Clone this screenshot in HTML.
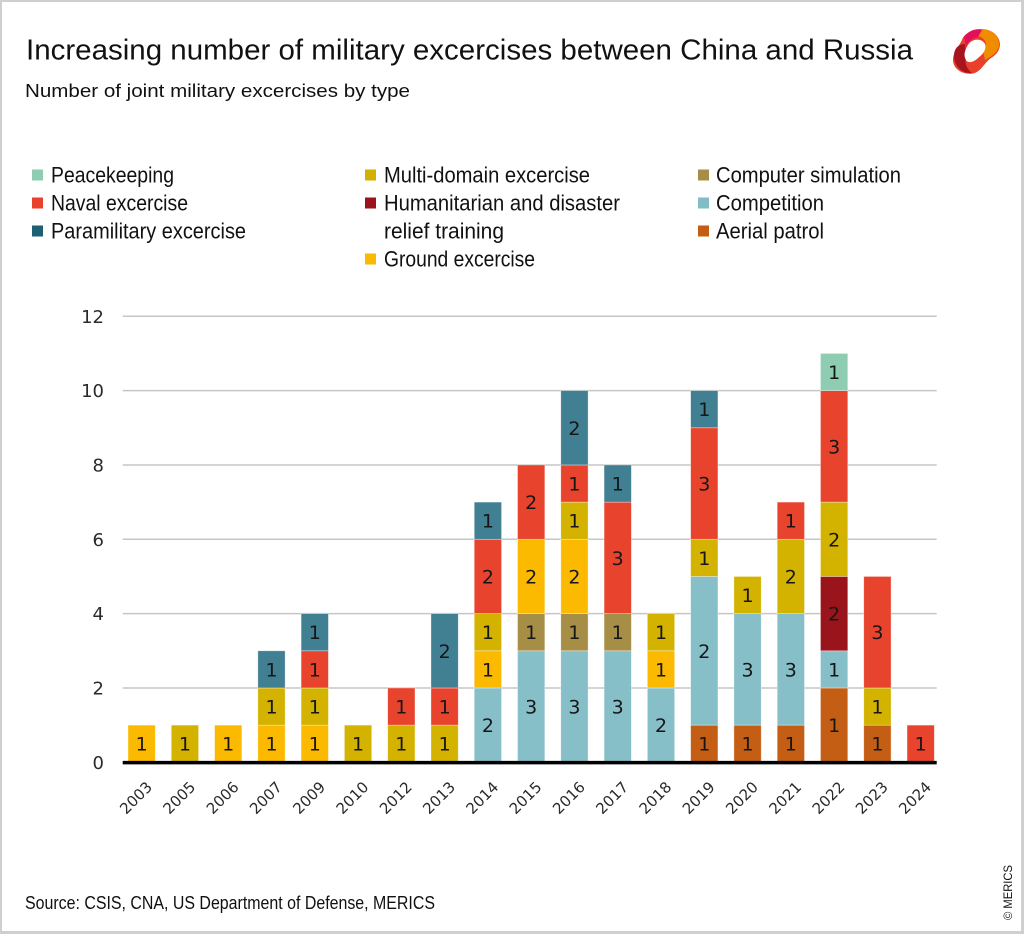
<!DOCTYPE html>
<html>
<head>
<meta charset="utf-8">
<style>
html,body{margin:0;padding:0;background:#fff;}
svg{display:block;}
.t{font-family:"Liberation Sans",sans-serif;fill:#111;}
.d{font-family:"DejaVu Sans","Liberation Sans",sans-serif;}
.bl{font-family:"DejaVu Sans","Liberation Sans",sans-serif;font-size:19px;fill:#161616;text-anchor:middle;}
.yl{font-family:"DejaVu Sans","Liberation Sans",sans-serif;font-size:18px;fill:#2a2a2a;text-anchor:end;}
.xl{font-family:"DejaVu Sans","Liberation Sans",sans-serif;font-size:15px;fill:#2a2a2a;text-anchor:end;}
.lg{font-family:"Liberation Sans",sans-serif;font-size:22px;fill:#111;}
</style>
</head>
<body>
<svg width="1024" height="934" viewBox="0 0 1024 934" xmlns="http://www.w3.org/2000/svg">
<rect x="0" y="0" width="1024" height="934" fill="#fff"/>
<!-- frame -->
<rect x="0" y="0" width="1024" height="2" fill="#cfcfcf"/>
<rect x="0" y="0" width="2" height="934" fill="#cfcfcf"/>
<rect x="1021" y="0" width="3" height="934" fill="#cfcfcf"/>
<rect x="0" y="931" width="1024" height="3" fill="#cfcfcf"/>

<!-- title -->
<text class="t" x="26" y="59.5" font-size="29" textLength="887" lengthAdjust="spacingAndGlyphs">Increasing number of military excercises between China and Russia</text>
<text class="t" x="25" y="97" font-size="18.5" fill="#222" textLength="385" lengthAdjust="spacingAndGlyphs">Number of joint military excercises by type</text>

<!-- logo -->
<g>
<path d="M962,40 C965,30 985,25 995,34 C1003,42 1001,52 991,58 C985,62 982,70 975,73 C965,76 953,70 953,60 C953,52 958,48 962,40 Z" fill="#E8402A"/>
<path d="M975,30 C988,26 1000,34 999,46 C997,54 990,57 985,60 L983,50 C988,45 986,38 978,36 Z" fill="#F08C00"/>
<path d="M964,37 C969,30 977,28 982,30 L978,37 C972,38 968,42 966,46 Z" fill="#E2105A"/>
<path d="M954,56 C954,48 959,44 965,44 L966,58 C964,64 968,70 972,73 C962,74 954,66 954,56 Z" fill="#A8141E"/>
<path d="M968,45 C972,38 982,38 985,44 C987,50 982,55 978,58 C974,62 968,64 966,60 C963,55 965,50 968,45 Z" fill="#fff"/>
</g>

<!-- legend -->
<rect x="32" y="169.5" width="11" height="11" fill="#8ECDB0"/>
<text class="lg" x="51" y="182.5" textLength="123" lengthAdjust="spacingAndGlyphs">Peacekeeping</text>
<rect x="32" y="197.5" width="11" height="11" fill="#E8412C"/>
<text class="lg" x="51" y="210.5" textLength="137" lengthAdjust="spacingAndGlyphs">Naval excercise</text>
<rect x="32" y="225.5" width="11" height="11" fill="#1E5F74"/>
<text class="lg" x="51" y="238.5" textLength="195" lengthAdjust="spacingAndGlyphs">Paramilitary excercise</text>

<rect x="365" y="169.5" width="11" height="11" fill="#D2B000"/>
<text class="lg" x="384" y="182.5" textLength="206" lengthAdjust="spacingAndGlyphs">Multi-domain excercise</text>
<rect x="365" y="197.5" width="11" height="11" fill="#9A141C"/>
<text class="lg" x="384" y="210.5" textLength="236" lengthAdjust="spacingAndGlyphs">Humanitarian and disaster</text>
<text class="lg" x="384" y="238.5" textLength="120" lengthAdjust="spacingAndGlyphs">relief training</text>
<rect x="365" y="253.5" width="11" height="11" fill="#FBBA00"/>
<text class="lg" x="384" y="266.5" textLength="151" lengthAdjust="spacingAndGlyphs">Ground excercise</text>

<rect x="698" y="169.5" width="11" height="11" fill="#A68E47"/>
<text class="lg" x="716" y="182.5" textLength="185" lengthAdjust="spacingAndGlyphs">Computer simulation</text>
<rect x="698" y="197.5" width="11" height="11" fill="#84BCC6"/>
<text class="lg" x="716" y="210.5" textLength="108" lengthAdjust="spacingAndGlyphs">Competition</text>
<rect x="698" y="225.5" width="11" height="11" fill="#C35E14"/>
<text class="lg" x="716" y="238.5" textLength="108" lengthAdjust="spacingAndGlyphs">Aerial patrol</text>

<!-- gridlines -->
<g stroke="#c6c6c6" stroke-width="1.5">
<line x1="122.7" x2="936.7" y1="316.26" y2="316.26"/>
<line x1="122.7" x2="936.7" y1="390.6" y2="390.6"/>
<line x1="122.7" x2="936.7" y1="464.94" y2="464.94"/>
<line x1="122.7" x2="936.7" y1="539.28" y2="539.28"/>
<line x1="122.7" x2="936.7" y1="613.62" y2="613.62"/>
<line x1="122.7" x2="936.7" y1="687.96" y2="687.96"/>
</g>

<!-- y labels -->
<text class="yl" x="104" y="322.8">12</text>
<text class="yl" x="104" y="397.1">10</text>
<text class="yl" x="104" y="471.4">8</text>
<text class="yl" x="104" y="545.8">6</text>
<text class="yl" x="104" y="620.1">4</text>
<text class="yl" x="104" y="694.5">2</text>
<text class="yl" x="104" y="768.8">0</text>

<!-- bars -->
<g stroke="#ffffff" stroke-opacity="0.5" stroke-width="0.7">
<!-- 2003 -->
<rect x="128" y="725.13" width="27.3" height="37.17" fill="#FBBA00"/>
<!-- 2005 -->
<rect x="171.28" y="725.13" width="27.3" height="37.17" fill="#D3B200"/>
<!-- 2006 -->
<rect x="214.56" y="725.13" width="27.3" height="37.17" fill="#FBBA00"/>
<!-- 2007 -->
<rect x="257.84" y="725.13" width="27.3" height="37.17" fill="#FBBA00"/>
<rect x="257.84" y="687.96" width="27.3" height="37.17" fill="#D3B200"/>
<rect x="257.84" y="650.79" width="27.3" height="37.17" fill="#417F93"/>
<!-- 2009 -->
<rect x="301.12" y="725.13" width="27.3" height="37.17" fill="#FBBA00"/>
<rect x="301.12" y="687.96" width="27.3" height="37.17" fill="#D3B200"/>
<rect x="301.12" y="650.79" width="27.3" height="37.17" fill="#E8432D"/>
<rect x="301.12" y="613.62" width="27.3" height="37.17" fill="#417F93"/>
<!-- 2010 -->
<rect x="344.4" y="725.13" width="27.3" height="37.17" fill="#D3B200"/>
<!-- 2012 -->
<rect x="387.68" y="725.13" width="27.3" height="37.17" fill="#D3B200"/>
<rect x="387.68" y="687.96" width="27.3" height="37.17" fill="#E8432D"/>
<!-- 2013 -->
<rect x="430.96" y="725.13" width="27.3" height="37.17" fill="#D3B200"/>
<rect x="430.96" y="687.96" width="27.3" height="37.17" fill="#E8432D"/>
<rect x="430.96" y="613.62" width="27.3" height="74.34" fill="#417F93"/>
<!-- 2014 -->
<rect x="474.24" y="687.96" width="27.3" height="74.34" fill="#86BFC8"/>
<rect x="474.24" y="650.79" width="27.3" height="37.17" fill="#FBBA00"/>
<rect x="474.24" y="613.62" width="27.3" height="37.17" fill="#D3B200"/>
<rect x="474.24" y="539.28" width="27.3" height="74.34" fill="#E8432D"/>
<rect x="474.24" y="502.11" width="27.3" height="37.17" fill="#417F93"/>
<!-- 2015 -->
<rect x="517.52" y="650.79" width="27.3" height="111.51" fill="#86BFC8"/>
<rect x="517.52" y="613.62" width="27.3" height="37.17" fill="#A68E47"/>
<rect x="517.52" y="539.28" width="27.3" height="74.34" fill="#FBBA00"/>
<rect x="517.52" y="464.94" width="27.3" height="74.34" fill="#E8432D"/>
<!-- 2016 -->
<rect x="560.8" y="650.79" width="27.3" height="111.51" fill="#86BFC8"/>
<rect x="560.8" y="613.62" width="27.3" height="37.17" fill="#A68E47"/>
<rect x="560.8" y="539.28" width="27.3" height="74.34" fill="#FBBA00"/>
<rect x="560.8" y="502.11" width="27.3" height="37.17" fill="#D3B200"/>
<rect x="560.8" y="464.94" width="27.3" height="37.17" fill="#E8432D"/>
<rect x="560.8" y="390.6" width="27.3" height="74.34" fill="#417F93"/>
<!-- 2017 -->
<rect x="604.08" y="650.79" width="27.3" height="111.51" fill="#86BFC8"/>
<rect x="604.08" y="613.62" width="27.3" height="37.17" fill="#A68E47"/>
<rect x="604.08" y="502.11" width="27.3" height="111.51" fill="#E8432D"/>
<rect x="604.08" y="464.94" width="27.3" height="37.17" fill="#417F93"/>
<!-- 2018 -->
<rect x="647.36" y="687.96" width="27.3" height="74.34" fill="#86BFC8"/>
<rect x="647.36" y="650.79" width="27.3" height="37.17" fill="#FBBA00"/>
<rect x="647.36" y="613.62" width="27.3" height="37.17" fill="#D3B200"/>
<!-- 2019 -->
<rect x="690.64" y="725.13" width="27.3" height="37.17" fill="#C35E14"/>
<rect x="690.64" y="576.45" width="27.3" height="148.68" fill="#86BFC8"/>
<rect x="690.64" y="539.28" width="27.3" height="37.17" fill="#D3B200"/>
<rect x="690.64" y="427.77" width="27.3" height="111.51" fill="#E8432D"/>
<rect x="690.64" y="390.6" width="27.3" height="37.17" fill="#417F93"/>
<!-- 2020 -->
<rect x="733.92" y="725.13" width="27.3" height="37.17" fill="#C35E14"/>
<rect x="733.92" y="613.62" width="27.3" height="111.51" fill="#86BFC8"/>
<rect x="733.92" y="576.45" width="27.3" height="37.17" fill="#D3B200"/>
<!-- 2021 -->
<rect x="777.2" y="725.13" width="27.3" height="37.17" fill="#C35E14"/>
<rect x="777.2" y="613.62" width="27.3" height="111.51" fill="#86BFC8"/>
<rect x="777.2" y="539.28" width="27.3" height="74.34" fill="#D3B200"/>
<rect x="777.2" y="502.11" width="27.3" height="37.17" fill="#E8432D"/>
<!-- 2022 -->
<rect x="820.48" y="687.96" width="27.3" height="74.34" fill="#C35E14"/>
<rect x="820.48" y="650.79" width="27.3" height="37.17" fill="#86BFC8"/>
<rect x="820.48" y="576.45" width="27.3" height="74.34" fill="#9A141C"/>
<rect x="820.48" y="502.11" width="27.3" height="74.34" fill="#D3B200"/>
<rect x="820.48" y="390.6" width="27.3" height="111.51" fill="#E8432D"/>
<rect x="820.48" y="353.43" width="27.3" height="37.17" fill="#8FCDB2"/>
<!-- 2023 -->
<rect x="863.76" y="725.13" width="27.3" height="37.17" fill="#C35E14"/>
<rect x="863.76" y="687.96" width="27.3" height="37.17" fill="#D3B200"/>
<rect x="863.76" y="576.45" width="27.3" height="111.51" fill="#E8432D"/>
<!-- 2024 -->
<rect x="907.04" y="725.13" width="27.3" height="37.17" fill="#E8432D"/>
</g>

<!-- bar labels -->
<g class="bl">
<text class="bl" x="141.65" y="750.7">1</text>
<text class="bl" x="184.93" y="750.7">1</text>
<text class="bl" x="228.21" y="750.7">1</text>
<text class="bl" x="271.49" y="750.7">1</text>
<text class="bl" x="271.49" y="713.5">1</text>
<text class="bl" x="271.49" y="676.4">1</text>
<text class="bl" x="314.77" y="750.7">1</text>
<text class="bl" x="314.77" y="713.5">1</text>
<text class="bl" x="314.77" y="676.4">1</text>
<text class="bl" x="314.77" y="639.2">1</text>
<text class="bl" x="358.05" y="750.7">1</text>
<text class="bl" x="401.33" y="750.7">1</text>
<text class="bl" x="401.33" y="713.5">1</text>
<text class="bl" x="444.61" y="750.7">1</text>
<text class="bl" x="444.61" y="713.5">1</text>
<text class="bl" x="444.61" y="657.8">2</text>
<!-- 2014 -->
<text class="bl" x="487.89" y="732.1">2</text>
<text class="bl" x="487.89" y="676.4">1</text>
<text class="bl" x="487.89" y="639.2">1</text>
<text class="bl" x="487.89" y="583.5">2</text>
<text class="bl" x="487.89" y="527.7">1</text>
<!-- 2015 -->
<text class="bl" x="531.17" y="713.5">3</text>
<text class="bl" x="531.17" y="639.2">1</text>
<text class="bl" x="531.17" y="583.5">2</text>
<text class="bl" x="531.17" y="509.1">2</text>
<!-- 2016 -->
<text class="bl" x="574.45" y="713.5">3</text>
<text class="bl" x="574.45" y="639.2">1</text>
<text class="bl" x="574.45" y="583.5">2</text>
<text class="bl" x="574.45" y="527.7">1</text>
<text class="bl" x="574.45" y="490.5">1</text>
<text class="bl" x="574.45" y="434.8">2</text>
<!-- 2017 -->
<text class="bl" x="617.73" y="713.5">3</text>
<text class="bl" x="617.73" y="639.2">1</text>
<text class="bl" x="617.73" y="564.9">3</text>
<text class="bl" x="617.73" y="490.5">1</text>
<!-- 2018 -->
<text class="bl" x="661.01" y="732.1">2</text>
<text class="bl" x="661.01" y="676.4">1</text>
<text class="bl" x="661.01" y="639.2">1</text>
<!-- 2019 -->
<text class="bl" x="704.29" y="750.7">1</text>
<text class="bl" x="704.29" y="657.8">2</text>
<text class="bl" x="704.29" y="564.9">1</text>
<text class="bl" x="704.29" y="490.5">3</text>
<text class="bl" x="704.29" y="416.2">1</text>
<!-- 2020 -->
<text class="bl" x="747.57" y="750.7">1</text>
<text class="bl" x="747.57" y="676.4">3</text>
<text class="bl" x="747.57" y="602.0">1</text>
<!-- 2021 -->
<text class="bl" x="790.85" y="750.7">1</text>
<text class="bl" x="790.85" y="676.4">3</text>
<text class="bl" x="790.85" y="583.5">2</text>
<text class="bl" x="790.85" y="527.7">1</text>
<!-- 2022 -->
<text class="bl" x="834.13" y="732.1">1</text>
<text class="bl" x="834.13" y="676.4">1</text>
<text class="bl" x="834.13" y="620.6">2</text>
<text class="bl" x="834.13" y="546.3">2</text>
<text class="bl" x="834.13" y="453.4">3</text>
<text class="bl" x="834.13" y="379.0">1</text>
<!-- 2023 -->
<text class="bl" x="877.41" y="750.7">1</text>
<text class="bl" x="877.41" y="713.5">1</text>
<text class="bl" x="877.41" y="639.2">3</text>
<!-- 2024 -->
<text class="bl" x="920.69" y="750.7">1</text>
</g>

<!-- zero axis -->
<line x1="122.7" x2="936.7" y1="762.6" y2="762.6" stroke="#000" stroke-width="3.5"/>

<!-- x labels -->
<text class="xl" transform="translate(153.15,788) rotate(-45)">2003</text>
<text class="xl" transform="translate(196.43,788) rotate(-45)">2005</text>
<text class="xl" transform="translate(239.71,788) rotate(-45)">2006</text>
<text class="xl" transform="translate(282.99,788) rotate(-45)">2007</text>
<text class="xl" transform="translate(326.27,788) rotate(-45)">2009</text>
<text class="xl" transform="translate(369.55,788) rotate(-45)">2010</text>
<text class="xl" transform="translate(412.83,788) rotate(-45)">2012</text>
<text class="xl" transform="translate(456.11,788) rotate(-45)">2013</text>
<text class="xl" transform="translate(499.39,788) rotate(-45)">2014</text>
<text class="xl" transform="translate(542.67,788) rotate(-45)">2015</text>
<text class="xl" transform="translate(585.95,788) rotate(-45)">2016</text>
<text class="xl" transform="translate(629.23,788) rotate(-45)">2017</text>
<text class="xl" transform="translate(672.51,788) rotate(-45)">2018</text>
<text class="xl" transform="translate(715.79,788) rotate(-45)">2019</text>
<text class="xl" transform="translate(759.07,788) rotate(-45)">2020</text>
<text class="xl" transform="translate(802.35,788) rotate(-45)">2021</text>
<text class="xl" transform="translate(845.63,788) rotate(-45)">2022</text>
<text class="xl" transform="translate(888.91,788) rotate(-45)">2023</text>
<text class="xl" transform="translate(932.19,788) rotate(-45)">2024</text>

<!-- source -->
<text class="t" x="25" y="909" font-size="18" fill="#222" textLength="410" lengthAdjust="spacingAndGlyphs">Source: CSIS, CNA, US Department of Defense, MERICS</text>
<text class="t" font-size="11.5" fill="#333" transform="translate(1012,920) rotate(-90)" textLength="55" lengthAdjust="spacingAndGlyphs">© MERICS</text>
</svg>
</body>
</html>
